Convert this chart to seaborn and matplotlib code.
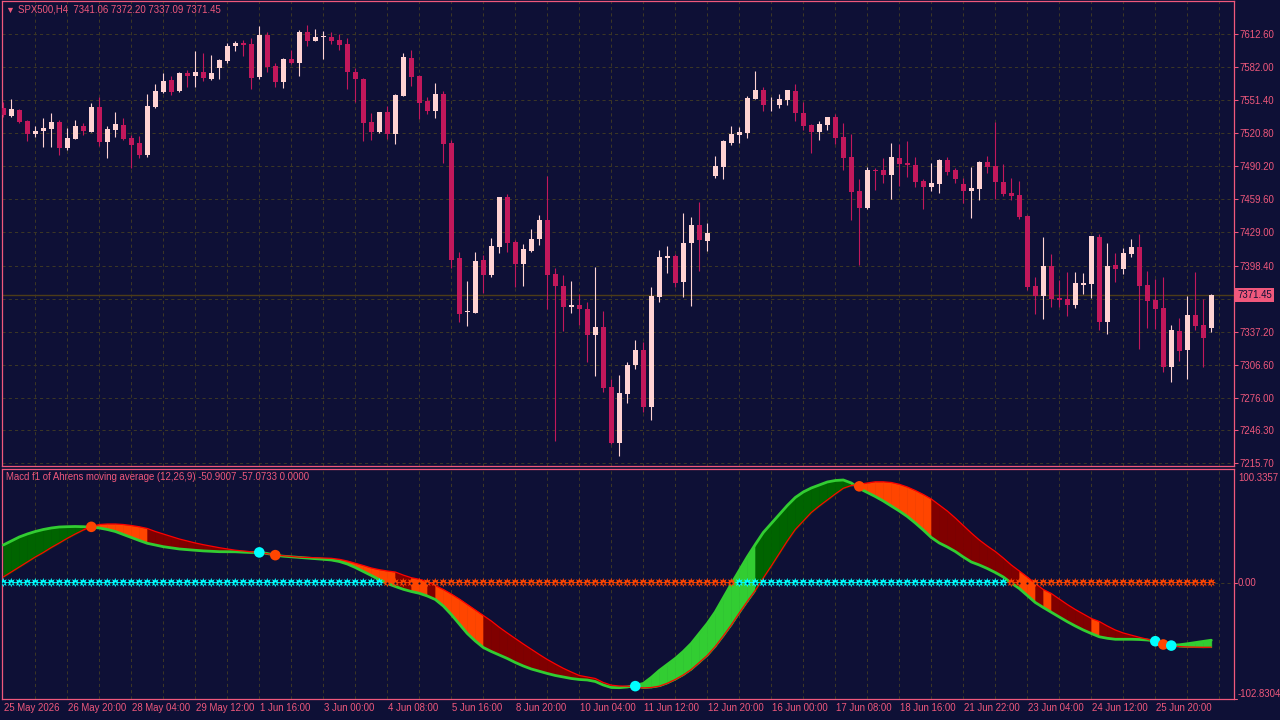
import matplotlib
matplotlib.use("Agg")
import matplotlib.pyplot as plt
import matplotlib.transforms as mtransforms
import numpy as np
import pandas as pd
import seaborn as sns

BG = "#0e1036"
PINK = "#f0587c"
BULL = "#ffd3d3"
BEAR = "#c2185b"
GRID = "#3b3626"
LIME = "#32cd32"
DKGREEN = "#006400"
ORANGE = "#ff4500"
DKRED = "#800000"
CYAN = "#00ffff"

title = "SPX500,H4  7341.06 7372.20 7337.09 7371.45"
macd_title = "Macd f1 of Ahrens moving average (12,26,9) -50.9007 -57.0733 0.0000"

# H4 candles
open_ = [7544.1, 7536.7, 7542.3, 7532.1, 7520.1, 7522.9, 7524.7, 7531.2, 7507.1, 7515.5,
         7527.5, 7521.9, 7545.1, 7512.7, 7523.8, 7528.4, 7516.4, 7511.8, 7500.7, 7545.1,
         7559.0, 7570.0, 7559.9, 7576.5, 7573.8, 7577.5, 7571.0, 7581.2, 7587.6, 7601.5,
         7604.3, 7603.4, 7572.8, 7611.7, 7583.0, 7568.2, 7589.5, 7585.8, 7614.5, 7606.1,
         7609.8, 7609.8, 7607.1, 7603.4, 7577.5, 7571.0, 7531.2, 7521.9, 7540.4, 7520.1,
         7555.2, 7590.4, 7573.8, 7550.6, 7541.4, 7557.1, 7511.8, 7405.4, 7355.4, 7354.5,
         7403.5, 7389.6, 7415.5, 7461.8, 7420.2, 7399.8, 7411.8, 7423.0, 7440.5, 7390.6,
         7379.5, 7360.0, 7361.9, 7358.2, 7334.1, 7341.5, 7286.0, 7234.2, 7279.5, 7306.4,
         7320.2, 7267.5, 7369.3, 7405.4, 7407.2, 7383.2, 7419.2, 7435.9, 7421.1, 7481.2,
         7489.6, 7511.8, 7519.2, 7521.0, 7552.5, 7560.8, 7547.4, 7546.9, 7551.5, 7559.9,
         7539.5, 7528.4, 7521.9, 7528.4, 7535.8, 7517.3, 7498.8, 7467.3, 7451.6, 7486.8,
         7486.8, 7482.2, 7497.9, 7493.3, 7491.4, 7476.6, 7471.0, 7473.8, 7496.0, 7486.8,
         7473.8, 7467.3, 7469.2, 7494.2, 7490.5, 7475.7, 7465.5, 7463.6, 7444.2, 7379.5,
         7370.2, 7398.0, 7368.4, 7367.4, 7361.9, 7380.4, 7381.3, 7424.8, 7346.1, 7398.9,
         7395.2, 7409.1, 7415.5, 7380.4, 7366.5, 7359.1, 7304.5, 7337.8, 7320.2, 7352.6,
         7343.4, 7341.06]
high = [7549.7, 7552.5, 7543.2, 7533.0, 7527.5, 7534.9, 7539.5, 7533.0, 7525.6, 7533.0,
        7530.3, 7548.8, 7554.3, 7527.5, 7540.4, 7534.9, 7519.2, 7518.2, 7557.1, 7566.4,
        7576.5, 7573.8, 7577.5, 7579.3, 7596.9, 7595.0, 7593.2, 7589.5, 7604.3, 7606.1,
        7607.1, 7608.9, 7620.0, 7614.5, 7585.8, 7590.4, 7597.8, 7616.3, 7620.9, 7617.0,
        7615.4, 7614.5, 7612.6, 7608.9, 7581.2, 7571.9, 7539.5, 7540.4, 7546.0, 7557.1,
        7595.0, 7597.8, 7574.7, 7554.3, 7567.3, 7559.9, 7514.5, 7410.9, 7384.1, 7410.9,
        7408.1, 7423.9, 7461.8, 7464.6, 7422.0, 7418.3, 7432.2, 7445.2, 7481.2, 7396.1,
        7389.6, 7384.1, 7372.1, 7364.7, 7397.0, 7356.3, 7293.4, 7297.2, 7309.2, 7329.5,
        7327.6, 7378.5, 7412.8, 7416.5, 7409.1, 7447.0, 7443.3, 7457.2, 7437.8, 7499.7,
        7514.5, 7527.5, 7526.6, 7555.2, 7578.4, 7563.6, 7554.3, 7557.1, 7560.8, 7566.4,
        7549.7, 7529.3, 7532.1, 7535.8, 7538.6, 7530.3, 7520.1, 7478.5, 7489.6, 7488.6,
        7497.9, 7511.8, 7510.8, 7513.6, 7498.8, 7478.5, 7493.3, 7497.0, 7498.8, 7488.6,
        7479.4, 7489.6, 7495.1, 7499.7, 7531.2, 7492.3, 7479.4, 7476.6, 7445.2, 7387.8,
        7424.8, 7409.1, 7385.0, 7392.4, 7392.4, 7391.5, 7425.8, 7427.6, 7419.2, 7410.0,
        7414.6, 7423.0, 7427.6, 7393.3, 7385.9, 7387.8, 7343.4, 7349.8, 7370.2, 7392.4,
        7367.4, 7372.20]
low = [7535.8, 7535.8, 7530.3, 7513.6, 7517.3, 7508.1, 7508.1, 7500.7, 7505.3, 7515.5,
       7519.2, 7521.9, 7509.0, 7497.9, 7517.3, 7514.5, 7488.6, 7497.9, 7498.8, 7544.1,
       7558.0, 7556.2, 7559.0, 7563.6, 7563.6, 7569.1, 7570.0, 7571.0, 7585.8, 7596.9,
       7592.3, 7561.7, 7571.0, 7577.5, 7563.6, 7562.7, 7585.0, 7573.8, 7601.5, 7606.1,
       7589.5, 7603.4, 7597.8, 7561.7, 7549.7, 7513.6, 7514.5, 7521.0, 7515.5, 7510.8,
       7555.2, 7564.5, 7534.0, 7538.6, 7534.9, 7493.3, 7396.1, 7346.1, 7342.4, 7354.5,
       7373.0, 7387.8, 7410.0, 7410.9, 7378.5, 7379.5, 7410.9, 7417.4, 7358.2, 7236.1,
       7337.8, 7354.5, 7343.4, 7309.2, 7296.2, 7281.4, 7233.3, 7222.2, 7271.2, 7302.7,
       7262.9, 7255.5, 7364.7, 7391.5, 7378.5, 7369.3, 7361.0, 7393.3, 7411.8, 7479.4,
       7478.5, 7509.9, 7511.8, 7516.4, 7552.5, 7541.4, 7541.4, 7544.1, 7546.9, 7532.1,
       7523.8, 7502.5, 7514.5, 7523.8, 7510.8, 7486.8, 7440.5, 7398.9, 7450.7, 7468.3,
       7474.7, 7459.9, 7472.0, 7480.3, 7471.0, 7450.7, 7467.3, 7465.5, 7482.2, 7474.7,
       7456.2, 7442.4, 7459.0, 7484.0, 7459.9, 7462.7, 7459.0, 7441.4, 7375.8, 7353.6,
       7348.9, 7360.0, 7360.0, 7351.7, 7359.1, 7372.1, 7368.4, 7338.7, 7335.0, 7383.2,
       7390.6, 7406.3, 7321.2, 7340.6, 7339.6, 7299.9, 7290.6, 7310.1, 7293.4, 7338.7,
       7304.5, 7337.09]
close = [7537.7, 7543.2, 7531.2, 7520.1, 7522.9, 7525.6, 7531.2, 7507.1, 7516.4, 7527.5,
         7522.9, 7545.1, 7512.7, 7524.7, 7529.3, 7515.5, 7509.9, 7500.7, 7546.0, 7559.9,
         7569.1, 7559.0, 7576.5, 7573.8, 7577.5, 7571.9, 7576.5, 7588.6, 7601.5, 7604.3,
         7602.4, 7571.9, 7611.7, 7582.1, 7568.2, 7589.5, 7585.8, 7614.5, 7606.1, 7609.8,
         7610.3, 7606.1, 7602.4, 7577.5, 7571.0, 7530.3, 7521.9, 7540.4, 7520.1, 7556.2,
         7591.3, 7572.8, 7548.8, 7541.4, 7557.1, 7510.8, 7403.5, 7353.6, 7355.9, 7402.6,
         7389.6, 7416.5, 7461.8, 7419.2, 7399.8, 7413.7, 7423.0, 7440.5, 7389.6, 7379.5,
         7360.0, 7361.9, 7358.2, 7334.1, 7341.5, 7285.1, 7234.2, 7280.5, 7306.4, 7320.2,
         7267.5, 7370.2, 7406.3, 7407.2, 7382.2, 7419.2, 7435.9, 7422.0, 7428.5, 7490.5,
         7513.6, 7520.1, 7521.9, 7553.4, 7560.8, 7546.9, 7547.8, 7552.5, 7560.8, 7539.5,
         7527.5, 7521.9, 7529.3, 7535.8, 7516.4, 7497.9, 7466.4, 7451.6, 7486.8, 7485.9,
         7482.2, 7498.8, 7492.3, 7491.4, 7475.7, 7471.0, 7474.7, 7496.0, 7484.9, 7478.5,
         7467.3, 7470.1, 7494.2, 7489.6, 7475.7, 7464.6, 7462.7, 7443.3, 7378.5, 7370.2,
         7398.0, 7367.4, 7366.5, 7361.9, 7382.2, 7382.2, 7425.8, 7346.1, 7398.0, 7395.2,
         7410.0, 7415.5, 7379.5, 7365.6, 7358.2, 7304.5, 7338.7, 7319.3, 7352.6, 7342.4,
         7331.3, 7371.45]

# indicator window values
macd = [33.21, 36.75, 40.28, 42.93, 45.14, 46.90, 48.23, 49.11, 49.38, 49.55,
        49.38, 48.93, 48.23, 46.90, 45.14, 42.49, 39.84, 37.19, 34.71, 33.21,
        31.71, 30.74, 29.68, 29.06, 28.53, 28.00, 27.65, 27.29, 27.29, 27.21,
        26.85, 26.59, 26.76, 25.70, 24.11, 23.32, 22.79, 22.26, 21.73, 21.20,
        20.58, 19.96, 18.64, 16.43, 13.34, 9.80, 6.27, 2.56, -0.79, -3.44,
        -5.92, -7.86, -9.45, -11.84, -14.93, -20.67, -28.18, -36.57, -44.96, -51.58,
        -57.33, -60.86, -63.95, -67.04, -70.58, -73.67, -76.32, -78.35, -80.29, -82.06,
        -83.38, -84.71, -85.59, -86.03, -87.36, -90.45, -92.66, -92.83, -92.22, -90.89,
        -89.13, -83.83, -77.64, -72.34, -67.04, -60.86, -53.79, -44.96, -36.13, -25.97,
        -13.60, -1.24, 10.69, 22.61, 33.65, 44.25, 52.20, 60.15, 68.10, 75.17,
        80.03, 83.56, 86.21, 88.86, 90.18, 90.63, 87.98, 83.12, 79.59, 76.05,
        72.08, 67.66, 63.24, 58.39, 52.65, 46.46, 39.84, 34.98, 31.45, 27.47,
        22.61, 18.20, 15.55, 12.45, 8.92, 4.95, -0.35, -5.21, -11.39, -17.58,
        -21.99, -26.23, -30.39, -34.54, -38.34, -41.87, -44.96, -47.87, -49.20, -50.08,
        -50.08, -50.08, -50.26, -50.70, -51.58, -54.94, -55.38, -54.94, -54.06, -53.00,
        -52.03, -50.9007]
signal = [4.95, 9.36, 13.78, 18.20, 22.61, 26.59, 31.00, 34.98, 39.13, 42.93,
          46.46, 49.55, 51.32, 51.76, 51.76, 51.32, 50.44, 49.29, 47.79, 45.14,
          42.93, 40.72, 38.51, 36.75, 34.98, 33.48, 32.15, 30.83, 29.68, 28.62,
          27.91, 27.21, 26.59, 25.44, 24.38, 23.76, 23.05, 22.44, 22.17, 21.99,
          21.73, 21.46, 20.58, 19.08, 17.14, 15.10, 12.90, 11.39, 10.25, 9.36,
          6.62, 4.33, 2.91, 0.79, -2.56, -6.09, -10.07, -14.49, -19.34, -24.20,
          -29.06, -33.92, -39.48, -44.52, -49.38, -54.23, -58.92, -63.51, -67.93, -71.90,
          -75.70, -78.97, -82.06, -83.38, -84.71, -88.24, -90.63, -91.33, -91.51, -92.04,
          -93.10, -92.66, -91.51, -88.95, -85.59, -81.62, -76.76, -70.58, -64.39, -56.44,
          -47.17, -37.45, -26.85, -16.69, -6.98, 4.06, 14.66, 25.70, 36.75, 46.90,
          54.41, 61.92, 67.66, 72.96, 78.26, 83.30, 85.77, 86.92, 87.98, 89.04,
          89.04, 88.42, 86.83, 84.44, 81.35, 77.82, 73.84, 68.54, 63.24, 57.06,
          50.44, 43.81, 37.63, 32.33, 27.47, 21.73, 15.55, 10.25, 4.95, -0.79,
          -6.09, -9.63, -14.49, -19.34, -23.76, -27.74, -31.71, -34.36, -38.34, -41.87,
          -44.52, -46.46, -48.32, -50.00, -52.03, -54.41, -55.91, -56.53, -56.89, -57.06,
          -57.15, -57.0733]

date_labels = ["25 May 2026", "26 May 20:00", "28 May 04:00", "29 May 12:00", "1 Jun 16:00",
               "3 Jun 00:00", "4 Jun 08:00", "5 Jun 16:00", "8 Jun 20:00", "10 Jun 04:00",
               "11 Jun 12:00", "12 Jun 20:00", "16 Jun 00:00", "17 Jun 08:00", "18 Jun 16:00",
               "21 Jun 22:00", "23 Jun 04:00", "24 Jun 12:00", "25 Jun 20:00"]
price_ticks = [7612.60, 7582.00, 7551.40, 7520.80, 7490.20, 7459.60, 7429.00, 7398.40,
               7367.80, 7337.20, 7306.60, 7276.00, 7246.30, 7215.70]
macd_max, macd_min = 100.3357, -102.8304
last_price = 7371.45

sns.set_theme(style="dark", rc={"axes.facecolor": BG, "figure.facecolor": BG,
                                "axes.edgecolor": PINK, "axes.grid": False,
                                "xtick.color": PINK, "ytick.color": PINK})
plt.rcParams["font.family"] = ["Liberation Sans", "DejaVu Sans"]
FS = 6.9

fig = plt.figure(figsize=(12.8, 7.2), dpi=100)
ax = fig.add_axes([2 / 1280, 254 / 720, 1232 / 1280, 465 / 720])
ax2 = fig.add_axes([2 / 1280, 21 / 720, 1232 / 1280, 230 / 720])

n = len(close)
bars = np.arange(n)
for a in (ax, ax2):
    a.set_facecolor(BG)
    a.set_xlim(-0.1625, 153.84)
    for sp in a.spines.values():
        sp.set_color(PINK)
        sp.set_linewidth(0.9)
    for b in range(4, n + 2, 4):
        a.axvline(b, color=GRID, lw=0.75, ls=(0, (3, 3)), zorder=0)

# ---- price window
df = pd.DataFrame({"bar": bars, "open": open_, "high": high, "low": low, "close": close})
df["color"] = np.where(df["close"] >= df["open"], BULL, BEAR)
body_lo = df[["open", "close"]].min(axis=1)
body_h = (df["close"] - df["open"]).abs().clip(lower=0.9)

ax.set_ylim(7212.93, 7643.13)
for p in price_ticks:
    ax.axhline(p, color=GRID, lw=0.75, ls=(0, (3, 3)), zorder=0)
ax.axhline(last_price, color="#4d3c18", lw=1, zorder=1)
ax.vlines(df["bar"], df["low"], df["high"], colors=df["color"], lw=0.8, zorder=3)
ax.bar(df["bar"], body_h, bottom=body_lo, width=0.62, color=df["color"], lw=0, zorder=4)

# the label of the tick under the current price is hidden by the price box
ax.yaxis.tick_right()
ax.set_yticks(price_ticks)
ax.set_yticklabels(["" if abs(p - last_price) < 10 else f"{p:.2f}" for p in price_ticks])
ax.tick_params(axis="y", colors=PINK, length=3, width=0.75, pad=1, labelsize=FS, direction="out")
ax.tick_params(axis="x", length=0, labelbottom=False)
ax.set_xlabel("")
ax.set_ylabel("")

fig.text(5 / 1280, 1 - 10 / 720, "\u25bc", color=PINK, fontsize=6.5, va="center", ha="left")
fig.text(18 / 1280, 1 - 10 / 720, title, color=PINK, fontsize=FS, va="center", ha="left")
fig.text(1237 / 1280, 1 - 295 / 720, f"{last_price:.2f}", color=BG, fontsize=FS,
         va="center", ha="left", zorder=10,
         bbox=dict(boxstyle="square,pad=0.25", fc=PINK, ec="none"))

# ---- indicator window
mdf = pd.DataFrame({"bar": bars, "macd": macd, "signal": signal})
diff = (mdf["macd"] - mdf["signal"]).to_numpy()
ax2.set_ylim(macd_min, macd_max)
ax2.axhline(0, color=GRID, lw=0.75, ls=(0, (3, 3)), zorder=0)

for i in range(1, n):
    bull = diff[i] > 0
    wide = abs(diff[i]) > abs(diff[i - 1])
    col = (LIME if wide else DKGREEN) if bull else (ORANGE if wide else DKRED)
    ax2.fill_between([i - 1, i], mdf["macd"][i - 1:i + 1], mdf["signal"][i - 1:i + 1],
                     color=col, lw=0.5, zorder=1)

sns.lineplot(data=mdf, x="bar", y="macd", ax=ax2, color=LIME, lw=2.0, zorder=3)
sns.lineplot(data=mdf, x="bar", y="signal", ax=ax2, color="#ff0000", lw=0.9, zorder=4)

zl = pd.DataFrame({"bar": bars, "zero": 0.0, "side": np.where(mdf["macd"] > 0, "up", "dn")})
sns.scatterplot(data=zl, x="bar", y="zero", hue="side", palette={"up": CYAN, "dn": ORANGE},
                marker=(8, 1, 0), s=46, linewidth=0, legend=False, ax=ax2, zorder=5)
ax2.scatter(bars, np.zeros(n), s=2.5, color=BG, lw=0, zorder=6)

cross = [i for i in range(1, n) if (diff[i] > 0) != (diff[i - 1] > 0)]
cdf = pd.DataFrame({"bar": cross,
                    "val": [(macd[i] + signal[i]) / 2 for i in cross],
                    "kind": ["up" if diff[i] > 0 else "dn" for i in cross]})
sns.scatterplot(data=cdf, x="bar", y="val", hue="kind", palette={"up": CYAN, "dn": ORANGE},
                s=58, linewidth=0, legend=False, ax=ax2, zorder=7)

ax2.set_xlabel("")
ax2.set_ylabel("")
ax2.set_yticks([])
ax2.set_xticks(bars[::8][:len(date_labels)])
ax2.set_xticklabels([])
ax2.tick_params(axis="x", length=4, width=0.75, color=PINK, direction="out")
for b, lab in zip(bars[::8], date_labels):
    ax2.text(b + 0.1, -0.04, lab, transform=ax2.get_xaxis_transform(), ha="left",
             va="center", color=PINK, fontsize=FS)

ytr = ax2.get_yaxis_transform()
down = mtransforms.ScaledTranslation(0, -3 / 72, fig.dpi_scale_trans)
ax2.text(1.0033, macd_max, f"{macd_max:.4f}", transform=ytr + down, ha="left", va="top",
         color=PINK, fontsize=FS)
ax2.text(1.0033, 0, "0.00", transform=ytr, ha="left", va="center", color=PINK, fontsize=FS)
ax2.text(1.0033, macd_min, f"{macd_min:.4f}", transform=ytr, ha="left", va="bottom",
         color=PINK, fontsize=FS)
for v in (0, macd_min):
    ax2.plot([1.0, 1.0025], [v, v], transform=ytr, color=PINK, lw=0.75, clip_on=False)
fig.text(6 / 1280, 1 - 477 / 720, macd_title, color=PINK, fontsize=FS, va="center", ha="left")

fig.savefig("out.png", dpi=100, facecolor=BG)
